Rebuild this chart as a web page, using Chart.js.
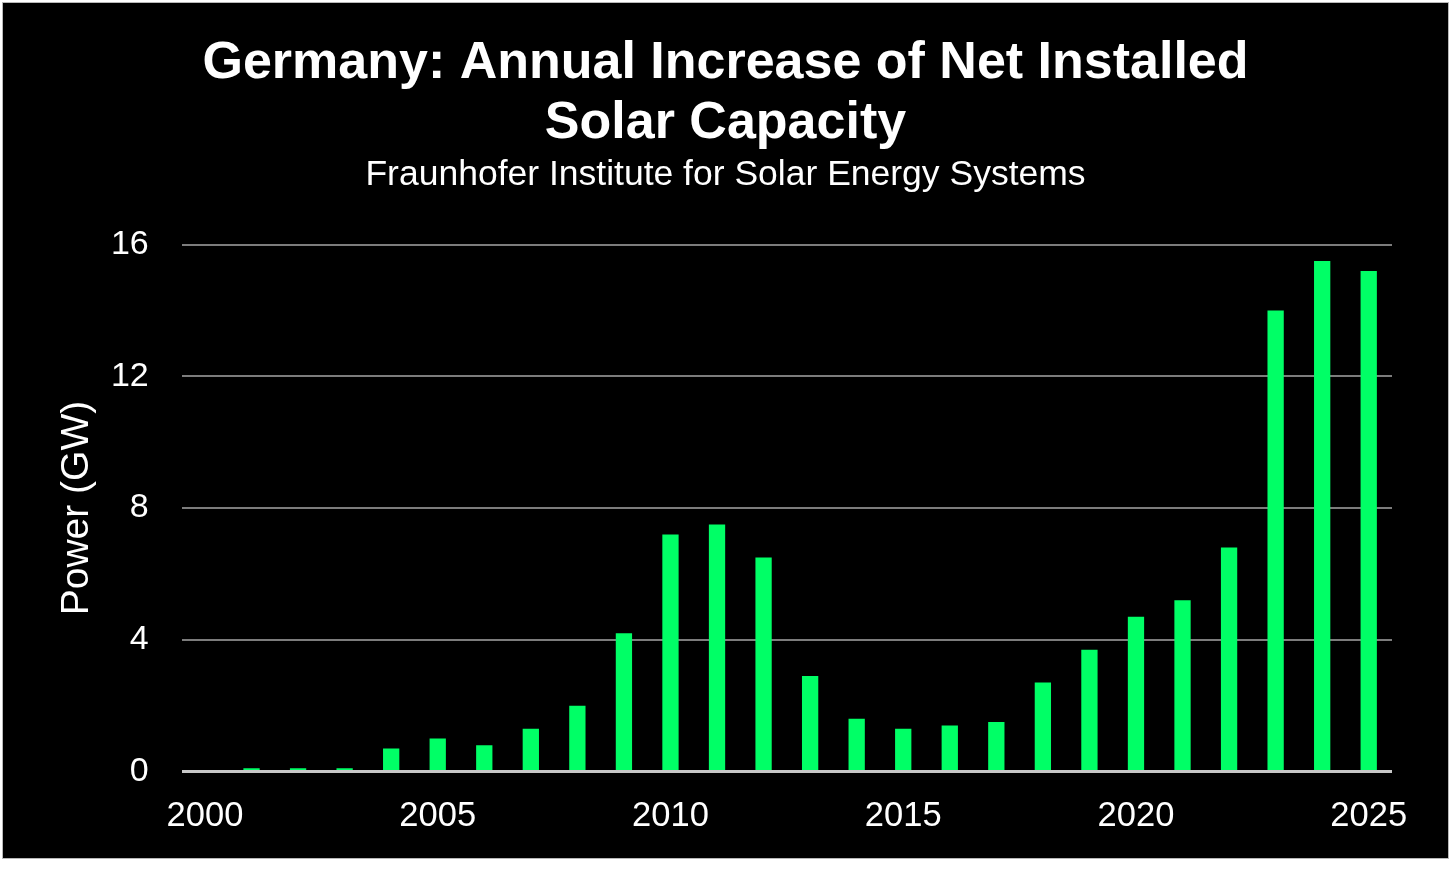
<!DOCTYPE html>
<html>
<head>
<meta charset="utf-8">
<script src="https://cdn.jsdelivr.net/npm/chart.js@4/dist/chart.umd.min.js"></script>
<style>
  html, body { margin: 0; padding: 0; background: #ffffff; }
  #frame { position: absolute; left: 2px; top: 2px; width: 1445px; height: 855px; border: 1px solid #b8b8b8; background: #000000; }
  #wrap { position: absolute; left: 0; top: 0; width: 1445px; height: 855px; }
</style>
</head>
<body>
<div id="frame"><div id="wrap"><canvas id="c"></canvas></div></div>
<script>
const years = ['2000','2001','2002','2003','2004','2005','2006','2007','2008','2009','2010','2011','2012',
               '2013','2014','2015','2016','2017','2018','2019','2020','2021','2022','2023','2024','2025'];
const capacityGW = [null, 0.1, 0.1, 0.1, 0.7, 1.0, 0.8, 1.3, 2.0, 4.2, 7.2, 7.5, 6.5,
                    2.9, 1.6, 1.3, 1.4, 1.5, 2.7, 3.7, 4.7, 5.2, 6.8, 14.0, 15.5, 15.2];
const yTicks = [0, 4, 8, 12, 16];
const titleLines = ['Germany: Annual Increase of Net Installed', 'Solar Capacity'];
const subtitleText = 'Fraunhofer Institute for Solar Energy Systems';
const yTitle = 'Power (GW)';

const FONT = '"Liberation Sans", Arial, Helvetica, sans-serif';

new Chart(document.getElementById('c'), {
  type: 'bar',
  data: {
    labels: years,
    datasets: [{
      data: capacityGW,
      backgroundColor: '#00ff66',
      borderWidth: 0,
      categoryPercentage: 1.0,
      barPercentage: 0.35
    }]
  },
  options: {
    responsive: true,
    maintainAspectRatio: false,
    animation: false,
    layout: { padding: { left: 0, right: 0, top: 0, bottom: 0 } },
    plugins: {
      legend: { display: false },
      tooltip: { enabled: false },
      title: {
        display: true,
        text: titleLines,
        color: '#ffffff',
        font: { family: FONT, size: 52, weight: 'bold', lineHeight: 1.154 },
        padding: { top: 31, bottom: 0 }
      },
      subtitle: {
        display: true,
        text: subtitleText,
        color: '#ffffff',
        font: { family: FONT, size: 35.5, weight: 'normal', lineHeight: 1.2 },
        padding: { top: 0, bottom: 48 }
      }
    },
    scales: {
      x: {
        type: 'category',
        offset: true,
        grid: { display: false, drawTicks: false },
        border: { display: false },
        afterFit: function(scale) { scale.height = 86.5; },
        ticks: {
          color: '#ffffff',
          font: { family: FONT, size: 34.5 },
          padding: 24,
          autoSkip: false,
          maxRotation: 0,
          minRotation: 0,
          callback: function(value, index) {
            const y = parseInt(years[index], 10);
            return (y % 5 === 0) ? years[index] : '';
          }
        }
      },
      y: {
        min: 0,
        max: 16,
        afterBuildTicks: function(scale) {
          scale.ticks = yTicks.map(v => ({ value: v }));
        },
        afterFit: function(scale) { scale.width = 178.7; },
        grid: {
          drawTicks: false,
          color: ctx => (ctx.tick && ctx.tick.value === 0) ? '#c8c8c8' : '#7c7c7c',
          lineWidth: ctx => (ctx.tick && ctx.tick.value === 0) ? 3 : 2
        },
        border: { display: false },
        ticks: {
          color: '#ffffff',
          font: { family: FONT, size: 34 },
          padding: 33
        },
        title: {
          display: true,
          text: yTitle,
          color: '#ffffff',
          font: { family: FONT, size: 39, lineHeight: 1.2 },
          padding: { top: 51, bottom: 0 }
        }
      },
      yRight: {
        type: 'linear',
        position: 'right',
        display: true,
        grid: { display: false, drawTicks: false },
        border: { display: false },
        ticks: { display: false },
        afterFit: function(scale) { scale.width = 56; }
      }
    }
  }
});
</script>
</body>
</html>
